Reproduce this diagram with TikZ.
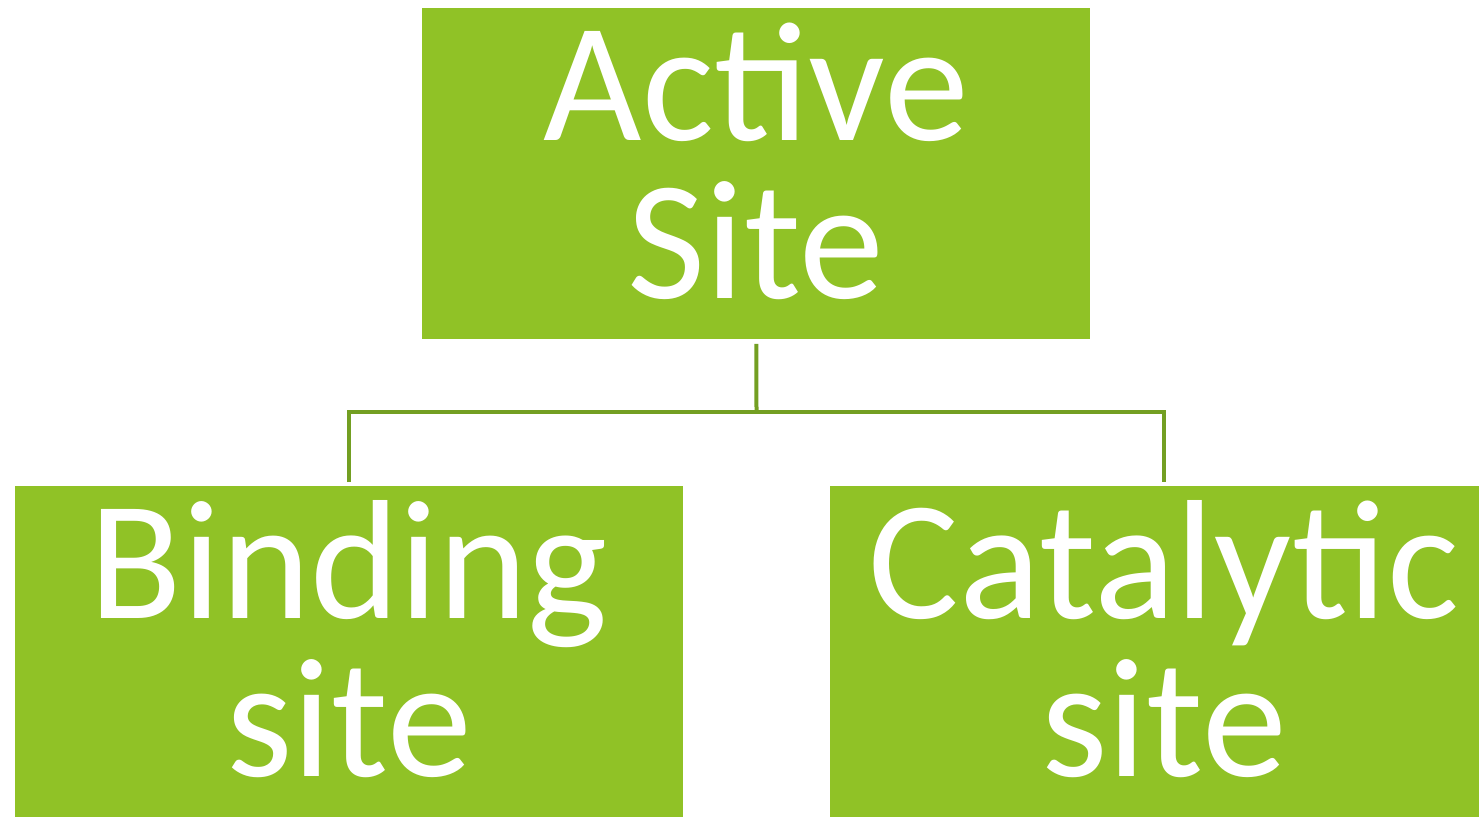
\documentclass[tikz,border=0pt]{standalone}
\usepackage{fontspec}
\setmainfont{Carlito}
\definecolor{boxgreen}{HTML}{90C226}
\definecolor{linegreen}{HTML}{739F22}
\begin{document}
\begin{tikzpicture}[x=0.5pt,y=-0.5pt,
  box/.style={fill=boxgreen, draw=none, anchor=north west, inner sep=0pt,
              minimum width=334pt, minimum height=165.5pt},
  lbl/.style={text=white, anchor=base, inner sep=0pt,
              font=\fontsize{85}{79}\selectfont},
  conn/.style={draw=linegreen, line width=2pt}]
  \useasboundingbox (0,0) rectangle (1479,816);

  % the three boxes
  \node[box] (top) at (422,8) {};
  \node[box] (bind) at (15,486) {};
  \node[box] (cat) at (830,486) {};

  % box labels, one node per line
  \node[lbl] (top1) at (756,140) {Active};
  \node[lbl] (top2) at (756,298) {Site};
  \node[lbl] (bind1) at (349,618) {Binding};
  \node[lbl] (bind2) at (349,776) {site};
  \node[lbl] (cat1) at (1164,618) {Catalytic};
  \node[lbl] (cat2) at (1164,776) {site};

  % tree connectors
  \coordinate (bus) at (756.5,411.5);
  \draw[conn] ([yshift=-2pt]top.south) -- (bus);
  \draw[conn] ([yshift=2pt]bind.north) |- (bus) -| ([yshift=2pt]cat.north);
\end{tikzpicture}
\end{document}
